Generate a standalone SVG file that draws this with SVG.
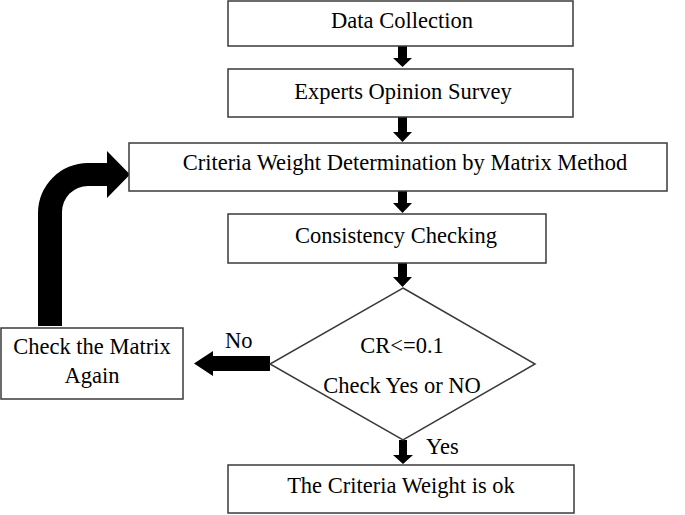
<svg xmlns="http://www.w3.org/2000/svg" width="685" height="515" viewBox="0 0 685 515">
<style>
.box{fill:#fff;stroke:#3a3a3a;stroke-width:1.5}
.t{font-family:"Liberation Serif","Times New Roman",serif;font-size:22.5px;fill:#000;text-anchor:middle}
.lbl{font-family:"Liberation Serif","Times New Roman",serif;font-size:22.5px;fill:#000}
.arr{fill:#000}
</style>
<rect width="685" height="515" fill="#fff"/>
<g id="connectors">
<path class="arr" d="M398,46 H407 V58 H412 L402.5,67 L393,58 H398 Z"/>
<path class="arr" d="M398,117 H407 V132 H412 L402.5,142 L393,132 H398 Z"/>
<path class="arr" d="M398,191 H407 V203 H412 L402.5,213 L393,203 H398 Z"/>
<path class="arr" d="M398,263 H407 V277 H412 L402.5,287 L393,277 H398 Z"/>
<path class="arr" d="M399,440 H407 V455 H413 L403,464 L393,455 H399 Z"/>
<path class="arr" d="M270,356 V371 H213 V376 L194,363.5 L213,351 V356 Z"/>
<path class="arr" d="M38,326 L38,213 A50,50 0 0 1 88,163 L107,163 L107,151 L130,174.5 L107,198 L107,186 L88,186 A26,26 0 0 0 62,212 L62,326 Z"/>
<text class="lbl" x="225" y="348">No</text>
<text class="lbl" x="426" y="454">Yes</text>
</g>
<g id="n1"><rect class="box" x="228" y="1" width="345" height="45"/><text class="t" x="402" y="28">Data Collection</text></g>
<g id="n2"><rect class="box" x="228" y="69" width="345" height="48"/><text class="t" x="403" y="99">Experts Opinion Survey</text></g>
<g id="n3"><rect class="box" x="129" y="143" width="538" height="48"/><text class="t" x="405" y="170">Criteria Weight Determination by Matrix Method</text></g>
<g id="n4"><rect class="box" x="228" y="214" width="318" height="49"/><text class="t" x="396" y="243">Consistency Checking</text></g>
<g id="n5"><polygon class="box" points="403,288 535,364 403,440 270,364"/><text class="t" x="402" y="353">CR&lt;=0.1</text><text class="t" x="402" y="393">Check Yes or NO</text></g>
<g id="n6"><rect class="box" x="1" y="328" width="182" height="71"/><text class="t" x="92" y="354">Check the Matrix</text><text class="t" x="92" y="383">Again</text></g>
<g id="n7"><rect class="box" x="228" y="465" width="346" height="48"/><text class="t" x="401" y="493">The Criteria Weight is ok</text></g>
</svg>
